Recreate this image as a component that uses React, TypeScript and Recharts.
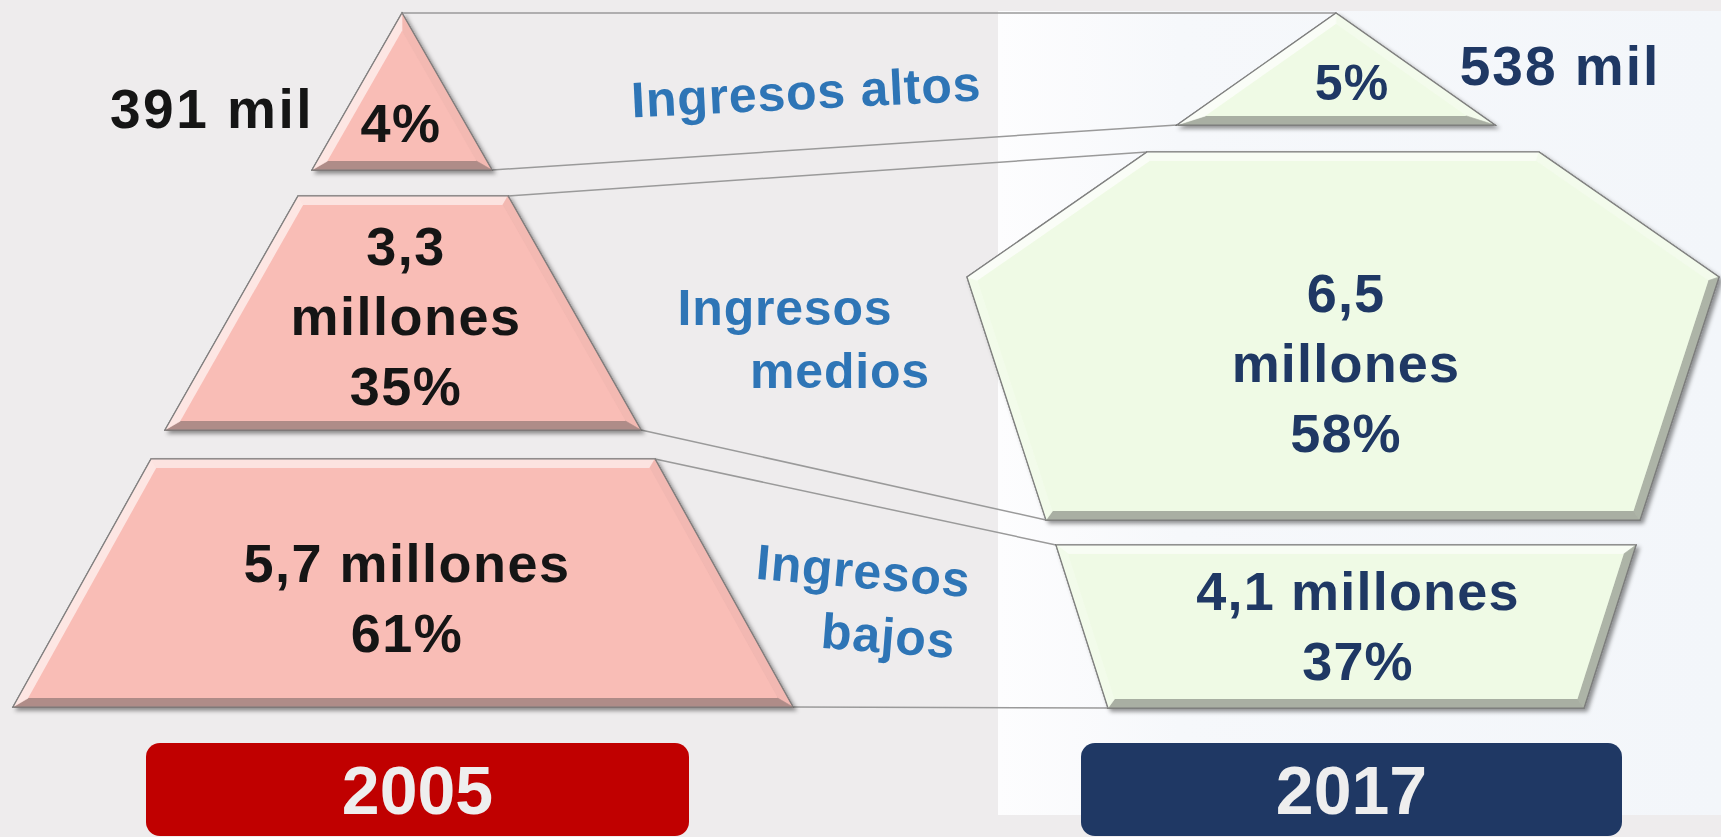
import React from "react";
import { ScatterChart, Scatter, XAxis, YAxis, ReferenceArea, ReferenceLine } from "recharts";

const W = 1721;
const H = 837;

// data
const years = ["2005", "2017"];
const tiers = ["Ingresos altos", "Ingresos medios", "Ingresos bajos"];
const people2005 = ["391 mil", "3,3 millones", "5,7 millones"];
const share2005 = [4, 35, 61];
const people2017 = ["538 mil", "6,5 millones", "4,1 millones"];
const share2017 = [5, 58, 37];

// layout of the pyramid pieces (chart units == px)
type Band = {
  cx: number;
  top: number;
  bottom: number;
  topHalf: number;
  bottomHalf: number;
  midY?: number;
  midHalf?: number;
};

const bands2005: Band[] = [
  { cx: 402, top: 13, bottom: 170, topHalf: 0, bottomHalf: 90 },
  { cx: 403, top: 196, bottom: 430, topHalf: 105, bottomHalf: 238 },
  { cx: 403, top: 459, bottom: 707, topHalf: 252, bottomHalf: 390 },
];
const bands2017: Band[] = [
  { cx: 1336, top: 13, bottom: 125, topHalf: 0, bottomHalf: 159 },
  { cx: 1343, top: 152, bottom: 520, topHalf: 196, bottomHalf: 297, midY: 277, midHalf: 376 },
  { cx: 1346, top: 545, bottom: 708, topHalf: 290, bottomHalf: 238 },
];

const PINK = "#f9bdb6";
const GREEN = "#effae5";

type Pt = { x: number; y: number };

const outline = (b: Band): Pt[] => {
  const pts: Pt[] = [];
  if (b.topHalf > 0) {
    pts.push({ x: b.cx - b.topHalf, y: b.top }, { x: b.cx + b.topHalf, y: b.top });
  } else {
    pts.push({ x: b.cx, y: b.top });
  }
  if (b.midY !== undefined) pts.push({ x: b.cx + (b.midHalf || 0), y: b.midY });
  pts.push({ x: b.cx + b.bottomHalf, y: b.bottom }, { x: b.cx - b.bottomHalf, y: b.bottom });
  if (b.midY !== undefined) pts.push({ x: b.cx - (b.midHalf || 0), y: b.midY });
  return pts;
};

const corner = (b: Band, which: "tl" | "tr" | "bl" | "br"): Pt => {
  if (which === "tl") return { x: b.cx - b.topHalf, y: b.top };
  if (which === "tr") return { x: b.cx + b.topHalf, y: b.top };
  if (which === "bl") return { x: b.cx - b.bottomHalf, y: b.bottom };
  return { x: b.cx + b.bottomHalf, y: b.bottom };
};

// thin grey guides joining both pyramids
const connectors = tiers.flatMap((_, i) => [
  [corner(bands2005[i], "tr"), corner(bands2017[i], "tl")],
  [corner(bands2005[i], "br"), corner(bands2017[i], "bl")],
]);

const textStyles: Record<string, { color: string; size: number; spacing: number; step: number }> = {
  dark: { color: "#151515", size: 54, spacing: 1.5, step: 70 },
  darkWide: { color: "#151515", size: 55, spacing: 2.5, step: 70 },
  navy: { color: "#1f3864", size: 54, spacing: 1.2, step: 70 },
  navyWide: { color: "#1f3864", size: 55, spacing: 2, step: 70 },
  navySmall: { color: "#1f3864", size: 50, spacing: 1, step: 70 },
  tier: { color: "#2e75b6", size: 50, spacing: 0.8, step: 63 },
};

const pct = (v: number) => `${v}%`;

const labels = [
  { x: 212, y: 128, kind: "darkWide", lines: [people2005[0]] },
  { x: 401, y: 142, kind: "dark", lines: [pct(share2005[0])] },
  { x: 406, y: 265, kind: "dark", lines: [...people2005[1].split(" "), pct(share2005[1])] },
  { x: 407, y: 582, kind: "dark", lines: [people2005[2], pct(share2005[2])] },
  { x: 1560, y: 85, kind: "navyWide", lines: [people2017[0]] },
  { x: 1352, y: 100, kind: "navySmall", lines: [pct(share2017[0])] },
  { x: 1346, y: 312, kind: "navy", lines: [...people2017[1].split(" "), pct(share2017[1])] },
  { x: 1358, y: 610, kind: "navy", lines: [people2017[2], pct(share2017[2])] },
  { x: 807, y: 109, kind: "tier", rot: -2.8, lines: [tiers[0]] },
  { x: 785, y: 325, kind: "tier", lines: tiers[1].split(" "), dx: [0, 55] },
  { x: 862, y: 588, kind: "tier", rot: 5, lines: [tiers[2].split(" ")[0]] },
  { x: 887, y: 653, kind: "tier", rot: 4.4, lines: [tiers[2].split(" ")[1]] },
];

const toRgb = (hex: string) => [1, 3, 5].map((i) => parseInt(hex.slice(i, i + 2), 16));
const mix = (hex: string, target: number[], t: number) => {
  const c = toRgb(hex);
  return `rgb(${c.map((v, i) => Math.round(v + (target[i] - v) * t)).join(",")})`;
};

const cross = (a: Pt, b: Pt) => a.x * b.y - a.y * b.x;

function BevelPoly({ points, color, depth = 9 }: { points: Pt[]; color: string; depth?: number }) {
  if (!points || points.length < 3) return null;
  const n = points.length;
  const edges = points.map((p, i) => {
    const q = points[(i + 1) % n];
    const len = Math.hypot(q.x - p.x, q.y - p.y) || 1;
    const dx = (q.x - p.x) / len;
    const dy = (q.y - p.y) / len;
    return { p, d: { x: dx, y: dy }, nrm: { x: -dy, y: dx } };
  });
  const inner = points.map((_, i) => {
    const a = edges[(i - 1 + n) % n];
    const b = edges[i];
    const P = { x: a.p.x + a.nrm.x * depth, y: a.p.y + a.nrm.y * depth };
    const Q = { x: b.p.x + b.nrm.x * depth, y: b.p.y + b.nrm.y * depth };
    const den = cross(a.d, b.d) || 1e-6;
    const t = cross({ x: Q.x - P.x, y: Q.y - P.y }, b.d) / den;
    return { x: P.x + a.d.x * t, y: P.y + a.d.y * t };
  });
  const L = { x: -0.55, y: -0.83 };
  const str = (ps: Pt[]) => ps.map((p) => `${p.x},${p.y}`).join(" ");
  return (
    <g>
      <polygon points={str(points)} fill={color} stroke="#5f5f5f" strokeWidth={1.4} filter="url(#pieceShadow)" />
      {edges.map((e, i) => {
        const s = -(e.nrm.x * L.x + e.nrm.y * L.y);
        const fill = s > 0 ? mix(color, [255, 255, 255], 0.7 * s) : mix(color, [70, 70, 70], 0.5 * -s);
        const face = [points[i], points[(i + 1) % n], inner[(i + 1) % n], inner[i]];
        return <polygon key={i} points={str(face)} fill={fill} stroke={fill} strokeWidth={0.6} />;
      })}
      <polygon points={str(inner)} fill={color} />
      <polygon points={str(points)} fill="none" stroke="#7c7c7c" strokeWidth={1.1} />
    </g>
  );
}

function TextMark(props: any) {
  const { cx, cy, payload } = props;
  const st = textStyles[payload.kind];
  return (
    <text
      x={cx}
      y={cy}
      textAnchor="middle"
      fill={st.color}
      fontSize={st.size}
      fontWeight={700}
      letterSpacing={st.spacing}
      transform={payload.rot ? `rotate(${payload.rot} ${cx} ${cy})` : undefined}
    >
      {payload.lines.map((ln: string, i: number) => (
        <tspan key={i} x={cx + (payload.dx ? payload.dx[i] : 0)} y={cy + i * st.step}>
          {ln}
        </tspan>
      ))}
    </text>
  );
}

const hidden = () => <g />;

export default function App() {
  const pieces = [
    ...bands2005.map((b) => ({ pts: outline(b), color: PINK })),
    ...bands2017.map((b) => ({ pts: outline(b), color: GREEN })),
  ];
  return (
    <div
      style={{
        position: "absolute",
        left: 0,
        top: 0,
        width: W,
        height: H,
        background: "#eeeced",
        fontFamily: "'Liberation Sans', Arial, sans-serif",
      }}
    >
      <ScatterChart width={W} height={H} margin={{ top: 0, right: 0, bottom: 0, left: 0 }}>
        <defs>
          <linearGradient id="panelBg" x1="0" y1="0" x2="1" y2="0">
            <stop offset="0%" stopColor="#fdfdfe" />
            <stop offset="25%" stopColor="#f6f8fb" />
            <stop offset="100%" stopColor="#f3f6fa" />
          </linearGradient>
          <filter id="pieceShadow" x="-10%" y="-10%" width="125%" height="125%">
            <feDropShadow dx="3" dy="3" stdDeviation="2" floodColor="#000" floodOpacity="0.42" />
          </filter>
        </defs>
        <XAxis type="number" dataKey="x" domain={[0, W]} allowDataOverflow hide />
        <YAxis type="number" dataKey="y" domain={[0, H]} allowDataOverflow reversed hide />
        <ReferenceArea x1={998} x2={W} y1={11} y2={815} fill="url(#panelBg)" fillOpacity={1} stroke="none" />
        {connectors.map(([a, b], i) => (
          <ReferenceLine key={i} segment={[a, b]} stroke="#9a9a9a" strokeWidth={1.5} />
        ))}
        {pieces.map((pc, i) => (
          <Scatter
            key={i}
            data={pc.pts}
            isAnimationActive={false}
            shape={hidden}
            line={(lp: any) => <BevelPoly points={lp.points} color={pc.color} />}
          />
        ))}
        {years.map((yr, i) => (
          <ReferenceArea
            key={yr}
            x1={i === 0 ? 146 : 1081}
            x2={i === 0 ? 689 : 1622}
            y1={743}
            y2={836}
            fillOpacity={1}
            shape={(p: any) => (
              <rect x={p.x} y={p.y} width={p.width} height={p.height} rx={14} fill={i === 0 ? "#c00000" : "#1f3864"} />
            )}
            label={{ value: yr, position: "center", fill: "#eeeeee", fontSize: 68, fontWeight: 700 }}
          />
        ))}
        <Scatter data={labels} isAnimationActive={false} shape={(p: any) => <TextMark {...p} />} />
      </ScatterChart>
    </div>
  );
}
